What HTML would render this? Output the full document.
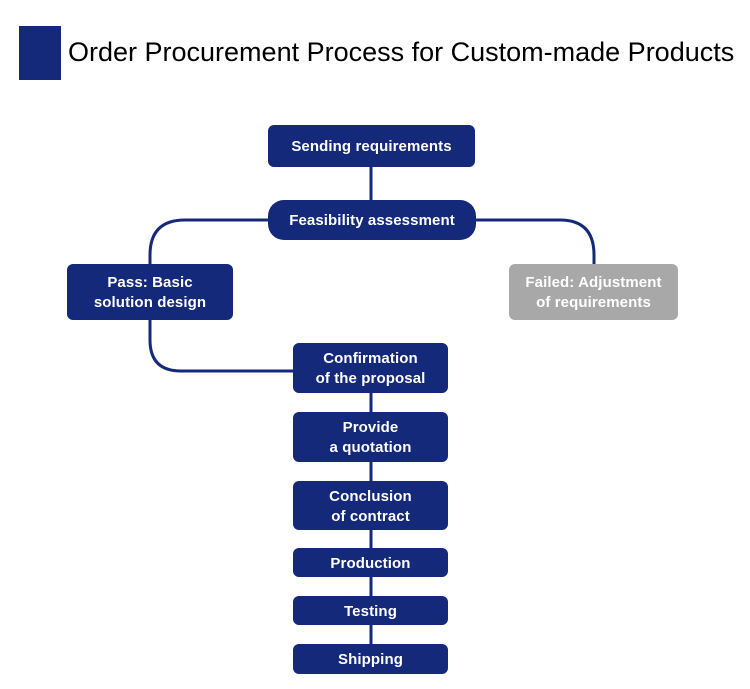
<!DOCTYPE html>
<html><head><style>
body{margin:0;width:750px;height:689px;background:#fff;position:relative;overflow:hidden;font-family:"Liberation Sans",sans-serif}
.b{position:absolute;background:#15297a;color:#fff;border-radius:6px;display:flex;align-items:center;justify-content:center;text-align:center;font-size:15px;line-height:20px;font-weight:bold;letter-spacing:0.1px;padding-top:2px;box-sizing:border-box}
</style></head><body>
<div style="position:absolute;left:19px;top:26px;width:42px;height:54px;background:#15297a"></div>
<div style="position:absolute;left:68px;top:37px;font-size:27px;color:#000;white-space:nowrap">Order Procurement Process for Custom-made Products</div>
<svg width="750" height="689" style="position:absolute;left:0;top:0">
<g fill="none" stroke="#15297a" stroke-width="3">
<line x1="371" y1="167" x2="371" y2="201"/>
<path d="M270 220 H185 Q150 220 150 255 V266"/>
<path d="M474 220 H560 Q594 220 594 255 V266"/>
<path d="M150 318 V340 Q150 371 181 371 H295"/>
<line x1="371" y1="392" x2="371" y2="646"/>
</g></svg>
<div class="b" style="left:268px;top:125px;width:207px;height:42px">Sending requirements</div>
<div class="b" style="left:268px;top:200px;width:208px;height:40px;border-radius:16px">Feasibility assessment</div>
<div class="b" style="left:67px;top:264px;width:166px;height:56px">Pass: Basic<br>solution design</div>
<div class="b" style="left:509px;top:264px;width:169px;height:56px;background:#a8a8a8">Failed: Adjustment<br>of requirements</div>
<div class="b" style="left:293px;top:343px;width:155px;height:50px">Confirmation<br>of the proposal</div>
<div class="b" style="left:293px;top:412px;width:155px;height:50px">Provide<br>a quotation</div>
<div class="b" style="left:293px;top:481px;width:155px;height:49px">Conclusion<br>of contract</div>
<div class="b" style="left:293px;top:548px;width:155px;height:29px">Production</div>
<div class="b" style="left:293px;top:596px;width:155px;height:29px">Testing</div>
<div class="b" style="left:293px;top:644px;width:155px;height:30px">Shipping</div>
</body></html>
